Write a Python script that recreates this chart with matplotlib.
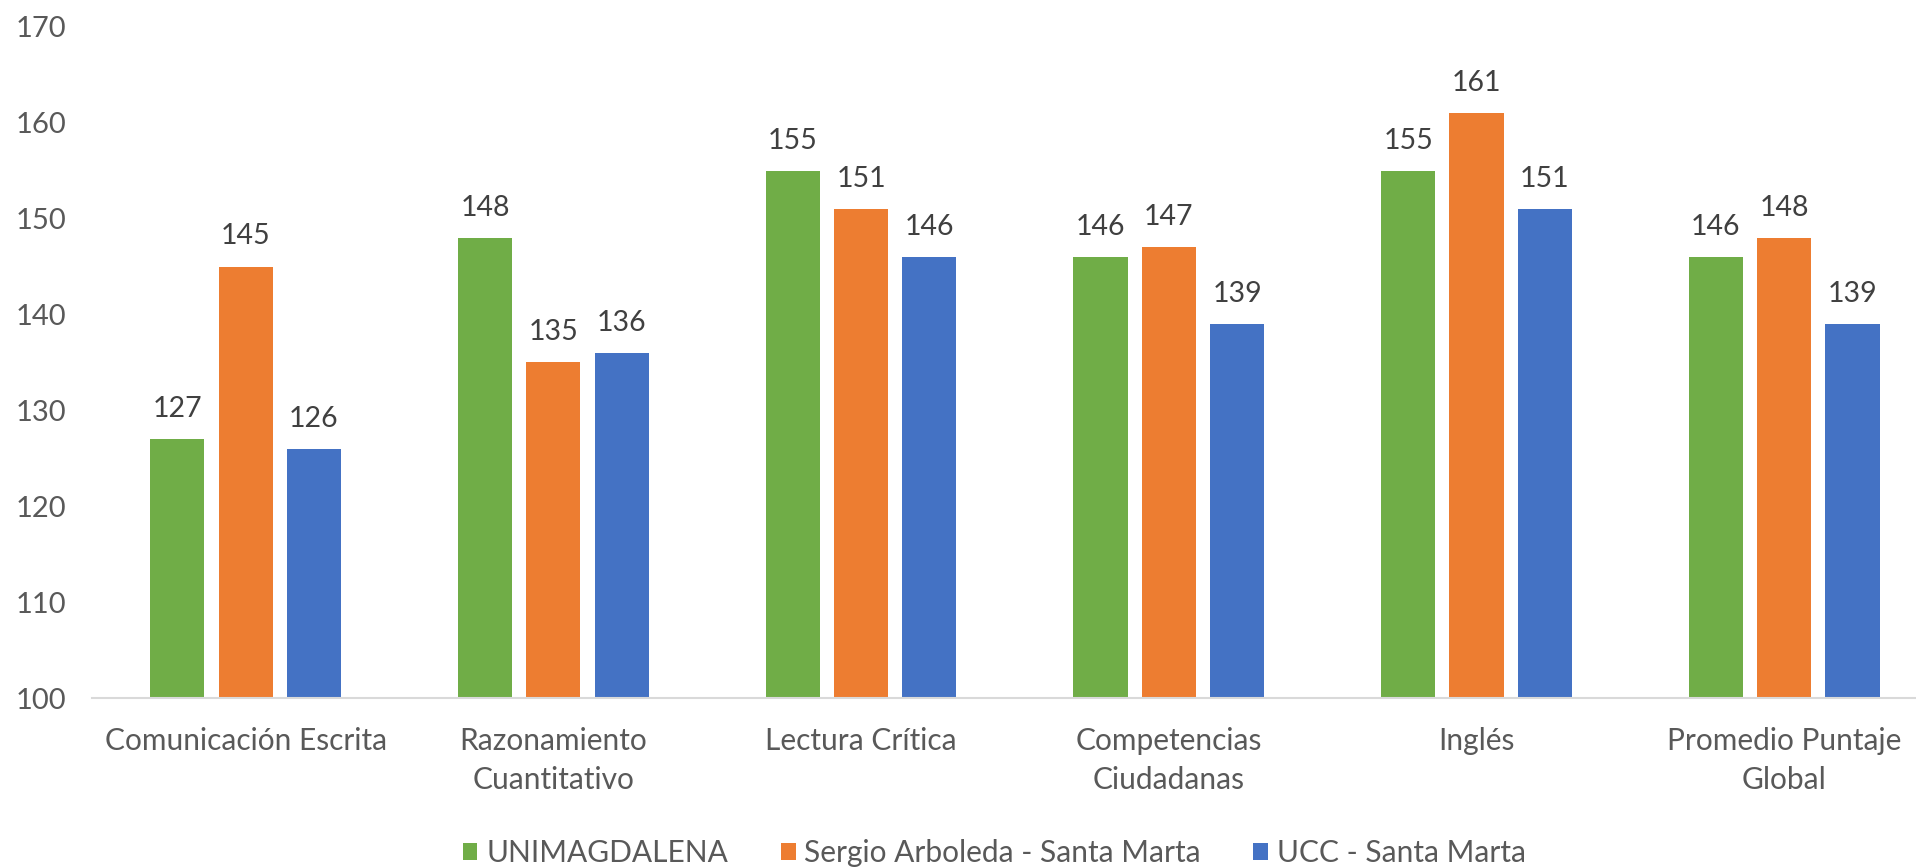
import numpy as np
import matplotlib
matplotlib.use("Agg")
import matplotlib.pyplot as plt
from matplotlib.patches import Patch

# Datos (puntajes Saber Pro)
categories = ["Comunicación Escrita", "Razonamiento\nCuantitativo", "Lectura Crítica",
              "Competencias\nCiudadanas", "Inglés", "Promedio Puntaje\nGlobal"]
series_names = ["UNIMAGDALENA", "Sergio Arboleda - Santa Marta", "UCC - Santa Marta"]
unimagdalena = [127, 148, 155, 146, 155, 146]
sergio_arboleda = [145, 135, 151, 147, 161, 148]
ucc = [126, 136, 146, 139, 151, 139]
y_ticks = [100, 110, 120, 130, 140, 150, 160, 170]

colors = ["#70AD47", "#ED7D31", "#4472C4"]
text_gray = "#595959"
label_gray = "#404040"

plt.rcParams["font.family"] = ["Lato", "DejaVu Sans"]

fig = plt.figure(figsize=(19.16, 8.67), dpi=100)
ax = fig.add_axes([0.0479, 0.1949, 0.9636, 0.774])

x = np.arange(len(categories))
width = 0.176
step = 0.222
for i, (vals, col) in enumerate(zip([unimagdalena, sergio_arboleda, ucc], colors)):
    pos = x + (i - 1) * step
    bars = ax.bar(pos, np.array(vals) - 100, width, bottom=100, color=col, zorder=2)
    for b, v in zip(bars, vals):
        ax.annotate(str(v), (b.get_x() + b.get_width() / 2, v),
                    xytext=(0, 16), textcoords="offset points",
                    ha="center", va="baseline", fontsize=20.5, color=label_gray)

ax.set_xlim(-0.5, len(categories) - 0.5)
ax.set_ylim(100, 170)
ax.set_yticks(y_ticks)
ax.set_xticks(x)
ax.set_xticklabels(categories, fontsize=21.5, color=text_gray, linespacing=1.45)
ax.tick_params(axis="y", labelsize=21, labelcolor=text_gray, length=0, pad=28)
ax.tick_params(axis="x", length=0, pad=21)
for lab in ax.get_yticklabels():
    lab.set_horizontalalignment("left")
    lab.set_x(-0.02)

for s in ["top", "right", "left"]:
    ax.spines[s].set_visible(False)
ax.spines["bottom"].set_color("#d9d9d9")
ax.spines["bottom"].set_linewidth(1.5)
ax.set_facecolor("none")

handles = [Patch(facecolor=c, label=n) for c, n in zip(colors, series_names)]
fig.legend(handles=handles, loc="center", bbox_to_anchor=(0.519, 0.016), ncol=3,
           frameon=False, fontsize=21.5, labelcolor=text_gray,
           handlelength=0.5, handleheight=0.5, handletextpad=0.3, columnspacing=1.75)

fig.savefig("out.png", dpi=100, facecolor="white")
